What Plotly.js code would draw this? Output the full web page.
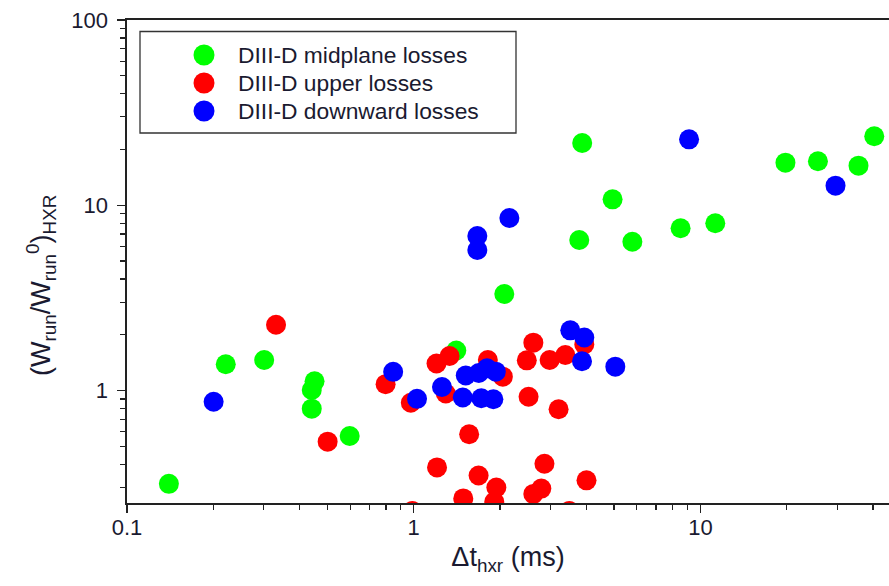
<!DOCTYPE html>
<html>
<head>
<meta charset="utf-8">
<script src="https://cdn.plot.ly/plotly-3.0.1.min.js"></script>
<style>html,body{margin:0;padding:0;background:#fff;}#chart{width:889px;height:586px;}</style>
</head>
<body>
<div id="chart"></div>
<script>
// Series names
const seriesNames = ["DIII-D midplane losses", "DIII-D upper losses", "DIII-D downward losses"];
const seriesColors = ["#00ff00", "#ff0000", "#0000ff"];

// Midplane losses (green)
const midX = [0.140, 0.221, 0.301, 0.451, 0.441, 0.441, 0.598, 1.408, 2.07, 3.87, 3.78, 4.94, 5.79, 8.53, 11.27, 19.8, 25.7, 35.6, 40.4];
const midY = [0.314, 1.387, 1.463, 1.122, 1.007, 0.799, 0.569, 1.646, 3.32, 21.7, 6.50, 10.77, 6.36, 7.52, 8.00, 16.98, 17.28, 16.36, 23.6];

// Upper losses (red)
const upX = [0.331, 0.501, 0.798, 0.977, 1.201, 1.334, 1.294, 1.814, 2.046, 1.561, 1.206, 1.684, 1.942, 1.489, 1.91, 0.989, 2.48, 2.614, 2.516, 2.979, 3.38, 3.202, 3.936, 2.858, 2.614, 2.787, 4.006, 3.489];
const upY = [2.268, 0.530, 1.083, 0.860, 1.401, 1.537, 0.965, 1.463, 1.189, 0.581, 0.385, 0.348, 0.300, 0.262, 0.251, 0.224, 1.457, 1.814, 0.927, 1.463, 1.556, 0.793, 1.774, 0.403, 0.277, 0.296, 0.328, 0.224];

// Downward losses (blue)
const downX = [0.2005, 0.848, 1.027, 1.255, 1.483, 1.519, 1.687, 1.802, 1.934, 1.721, 1.896, 3.517, 3.936, 3.864, 5.049, 1.667, 1.667, 2.156, 9.13, 29.6];
const downY = [0.871, 1.263, 0.903, 1.046, 0.918, 1.206, 1.245, 1.319, 1.265, 0.909, 0.898, 2.115, 1.935, 1.441, 1.346, 6.83, 5.74, 8.54, 22.7, 12.76];

// Axis labels
const xTitle = "\u0394t<sub>hxr</sub> (ms)";
const yTitle = "(W<sub>run</sub>/W<sub>run</sub><sup>0</sup>)<sub>HXR</sub>";

const FONT = "Arial, 'Liberation Sans', sans-serif";
const TXT = "#1a1a30";
const AX = "#222222";

const xs = [midX, upX, downX];
const ys = [midY, upY, downY];
const traces = xs.map((x, i) => ({
  type: "scatter", mode: "markers", name: seriesNames[i],
  x: x, y: ys[i],
  marker: { color: seriesColors[i], size: 20, line: { width: 0 } },
  cliponaxis: true,
  showlegend: false
}));

// Manual legend (box, symbols, labels) in paper coordinates
const L = 127, T = 20, B = 83, W = 889, H = 586;
const pw = W - L, ph = H - T - B;
const px = v => (v - L) / pw;
const py = v => (H - B - v) / ph;
const legendRowsY = [55, 83, 111];
const shapes = [{
  type: "rect", xref: "paper", yref: "paper",
  x0: px(140), x1: px(516), y0: py(133), y1: py(31.5),
  line: { color: "#333", width: 1.3 }, fillcolor: "rgba(255,255,255,0)"
}];
const annotations = [];
seriesNames.forEach((n, i) => {
  shapes.push({
    type: "circle", xref: "paper", yref: "paper",
    xsizemode: "pixel", ysizemode: "pixel",
    xanchor: px(204), yanchor: py(legendRowsY[i]),
    x0: -10.5, x1: 10.5, y0: -10.5, y1: 10.5,
    fillcolor: seriesColors[i], line: { width: 0 }
  });
  annotations.push({
    xref: "paper", yref: "paper", x: px(236), y: py(legendRowsY[i]),
    xanchor: "left", yanchor: "middle", showarrow: false,
    text: n, font: { family: FONT, size: 22.8, color: TXT }
  });
});
// y-axis title (placed as rotated annotation to match reference offset)
annotations.push({
  xref: "paper", yref: "paper", x: px(41), y: py(285),
  xanchor: "center", yanchor: "middle", showarrow: false,
  textangle: -90, text: yTitle,
  font: { family: FONT, size: 27, color: TXT }
});

const layout = {
  width: W, height: H,
  margin: { l: L, r: 0, t: T, b: B },
  paper_bgcolor: "#fff", plot_bgcolor: "#fff",
  showlegend: false,
  font: { family: FONT, color: TXT },
  xaxis: {
    type: "log", range: [-1, -1 + pw / 286.7],
    dtick: 1, tick0: 0,
    showgrid: false, zeroline: false,
    showline: true, linecolor: AX, linewidth: 1.6, mirror: true,
    ticks: "outside", ticklen: 8, tickwidth: 1.4, tickcolor: AX,
    minor: { ticks: "outside", ticklen: 5, tickwidth: 1.2, tickcolor: AX, dtick: "D1", showgrid: false },
    tickfont: { family: FONT, size: 22, color: TXT },
    ticklabelstandoff: -4,
    title: { text: xTitle, font: { family: FONT, size: 27, color: TXT }, standoff: 8 }
  },
  yaxis: {
    type: "log", range: [2 - ph / 185.3, 2],
    dtick: 1, tick0: 0,
    showgrid: false, zeroline: false,
    showline: true, linecolor: AX, linewidth: 1.6,
    ticks: "outside", ticklen: 8, tickwidth: 1.4, tickcolor: AX,
    minor: { ticks: "outside", ticklen: 5, tickwidth: 1.2, tickcolor: AX, dtick: "D1", showgrid: false },
    tickfont: { family: FONT, size: 22, color: TXT },
    ticklabelstandoff: 5
  },
  shapes: shapes,
  annotations: annotations
};

Plotly.newPlot("chart", traces, layout, { staticPlot: true, displayModeBar: false });
</script>
</body>
</html>
